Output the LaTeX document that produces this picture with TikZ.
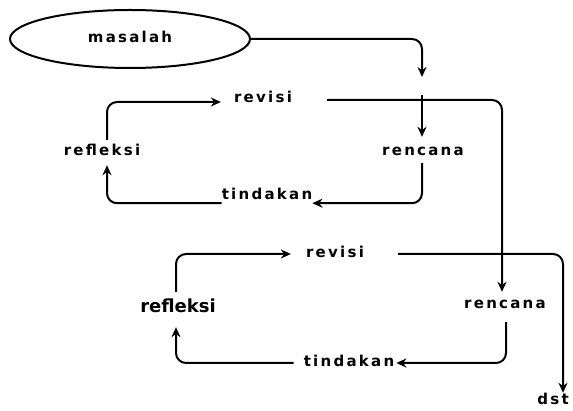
\documentclass[tikz,border=0pt]{standalone}
\usepackage{fontspec}
\newfontfamily\lblfont[LetterSpace=15]{DejaVu Sans}
\newfontfamily\bigfont{DejaVu Sans}
\usepackage{tikz}
\usetikzlibrary{positioning,calc,arrows.meta,shapes.geometric}
\tikzset{>={Stealth[length=10pt,width=9pt]}}

\begin{document}
\begin{tikzpicture}[x=1pt,y=-1pt,
  lbl/.style={font=\lblfont\bfseries\fontsize{15}{17}\selectfont,inner sep=0pt,text height=8pt,text depth=0pt},
  conn/.style={->,line width=2pt,rounded corners=10pt}]
\useasboundingbox (0,0) rectangle (573,411);
\node[draw,ellipse,line width=2pt,minimum width=240pt,minimum height=58pt,lbl] (masalah) at (130,39) {masalah};
\node[lbl] (revisiA) at (263,99) {revisi};
\node[lbl] (refleksiA) at (102,152) {refleksi};
\node[lbl] (rencanaA) at (423,152) {rencana};
\node[lbl] (tindakanA) at (267,196) {tindakan};
\node[lbl] (revisiB) at (335,254) {revisi};
\node[lbl,font=\bigfont\bfseries\fontsize{18}{20}\selectfont,text height=10pt] (refleksiB) at (178,308) {refleksi};
\node[lbl] (rencanaB) at (505,305) {rencana};
\node[lbl] (tindakanB) at (349,363) {tindakan};
\node[lbl] (dst) at (553,401) {dst};
\coordinate (inA) at (422,77);
\coordinate (splitA) at (422,95);
\draw[conn] (masalah.east) -| (inA);
\draw[conn] (splitA) -- ([xshift=-1pt,yshift=11pt]rencanaA.north);
\draw[conn] ([xshift=-1pt,yshift=-7pt]rencanaA.south) |- ([yshift=-3pt]tindakanA.south east);
\draw[conn] ([yshift=-3pt]tindakanA.south west) -| ([shift={(5pt,-9pt)}]refleksiA.south);
\draw[conn] ([shift={(5pt,8pt)}]refleksiA.north) |- ([shift={(-13pt,-3pt)}]revisiA.west);
\draw[conn] ([shift={(35pt,-1pt)}]revisiA.east) -| ([shift={(-3pt,9pt)}]rencanaB.north);
\draw[conn] ([shift={(1pt,-13pt)}]rencanaB.south) |- ([xshift=2pt]tindakanB.east);
\draw[conn] ([xshift=-10pt]tindakanB.west) -| ([shift={(-2pt,-14pt)}]refleksiB.south);
\draw[conn] ([shift={(-2pt,11pt)}]refleksiB.north) |- ([xshift=-15pt]revisiB.west);
\draw[conn] ([xshift=34pt]revisiB.east) -| ([shift={(10pt,4pt)}]dst.north);
\end{tikzpicture}
\end{document}
